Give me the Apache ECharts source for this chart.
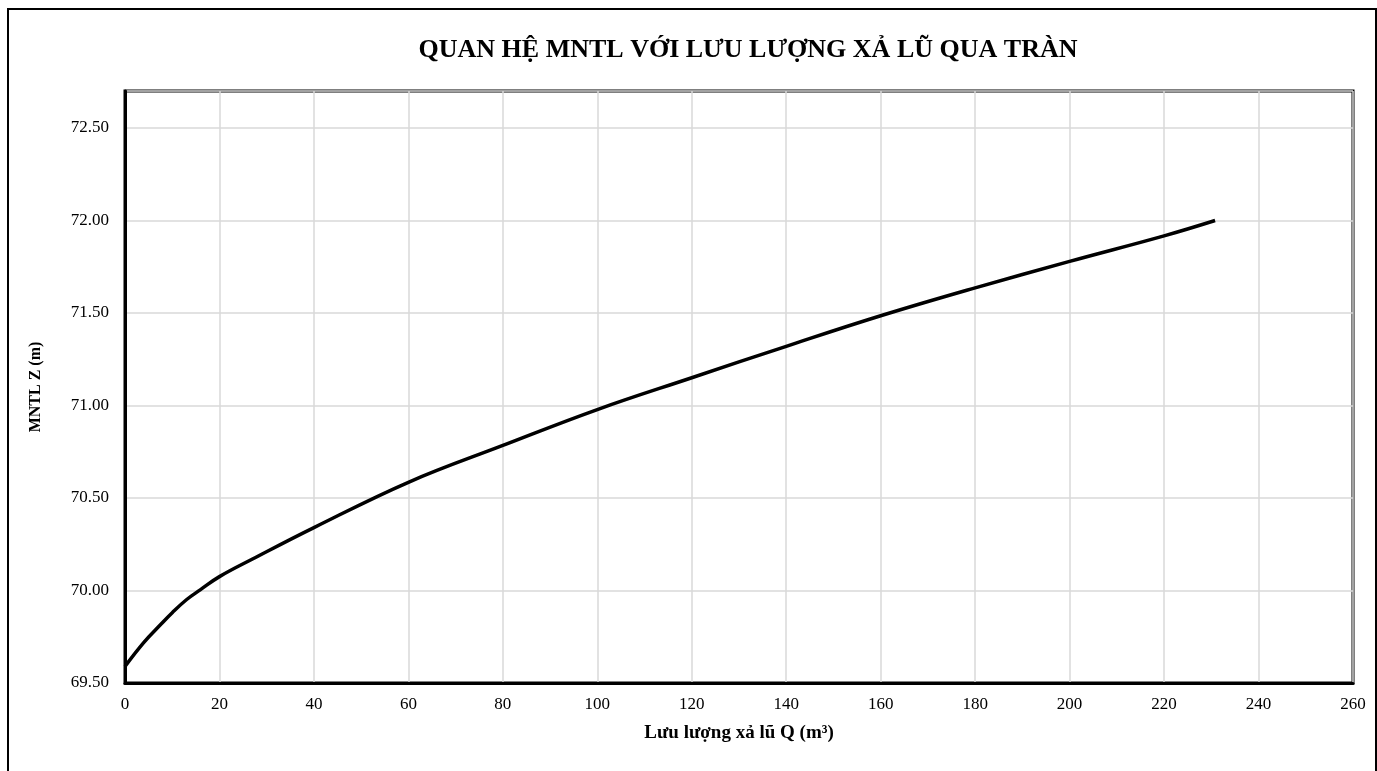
<!DOCTYPE html>
<html>
<head>
<meta charset="utf-8">
<script src="https://cdn.jsdelivr.net/npm/echarts@6/dist/echarts.min.js"></script>
<style>
html,body{margin:0;padding:0;background:#fff;}
#chart{width:1377px;height:771px;}
</style>
</head>
<body>
<div id="chart"></div>
<script>
const titleText = 'QUAN HỆ MNTL VỚI LƯU LƯỢNG XẢ LŨ QUA TRÀN';
const xName = 'Lưu lượng xả lũ Q (m³)';
const yName = 'MNTL Z (m)';
const qValues = [0, 4, 7.5, 10, 13, 16, 20, 27, 40, 60, 80, 100, 120, 140, 160, 180, 200, 220, 230.8];
const zValues = [69.59, 69.72, 69.815, 69.88, 69.95, 70.005, 70.075, 70.17, 70.34, 70.585, 70.784, 70.978, 71.15, 71.32, 71.485, 71.636, 71.779, 71.917, 72.0];

const chart = echarts.init(document.getElementById('chart'), null, {renderer: 'canvas'});
const font = '"Liberation Serif", "Times New Roman", serif';
chart.setOption({
  animation: false,
  backgroundColor: '#fff',
  title: {
    text: titleText,
    left: 743, top: 32, textAlign: 'center',
    textStyle: {fontFamily: font, fontSize: 26, fontWeight: 'bold', color: '#000'}
  },
  graphic: [{
    type: 'rect', silent: true, z: 100,
    shape: {x: 8, y: 9, width: 1368, height: 780},
    style: {fill: 'none', stroke: '#000', lineWidth: 2}
  }],
  grid: {left: 125, right: 24, top: 91, bottom: 88, show: true, borderColor: '#000', borderWidth: 3, backgroundColor: '#fff'},
  xAxis: {
    type: 'value', min: 0, max: 260, interval: 20,
    name: xName, nameLocation: 'middle', nameGap: 41,
    nameTextStyle: {fontFamily: font, fontSize: 19, fontWeight: 'bold', color: '#000'},
    axisLine: {show: true, lineStyle: {color: '#000', width: 3}},
    axisTick: {show: false},
    axisLabel: {fontFamily: font, fontSize: 17, color: '#000', margin: 13},
    splitLine: {show: true, lineStyle: {color: '#d9d9d9', width: 1.5}}
  },
  yAxis: {
    type: 'value', min: 69.5, max: 72.7, interval: 0.5,
    name: yName, nameLocation: 'middle', nameGap: 81, nameRotate: 90,
    nameTextStyle: {fontFamily: font, fontSize: 16, fontWeight: 'bold', color: '#000'},
    axisLine: {show: true, lineStyle: {color: '#000', width: 3}},
    axisTick: {show: false},
    axisLabel: {fontFamily: font, fontSize: 17, color: '#000', margin: 16, showMaxLabel: false,
      formatter: v => v.toFixed(2)},
    splitLine: {show: true, lineStyle: {color: '#d9d9d9', width: 1.5}}
  },
  series: [{
    type: 'line',
    data: qValues.map((q, i) => [q, zValues[i]]),
    smooth: 0.4,
    showSymbol: false,
    lineStyle: {color: '#000', width: 3.5}
  }]
});
</script>
</body>
</html>
